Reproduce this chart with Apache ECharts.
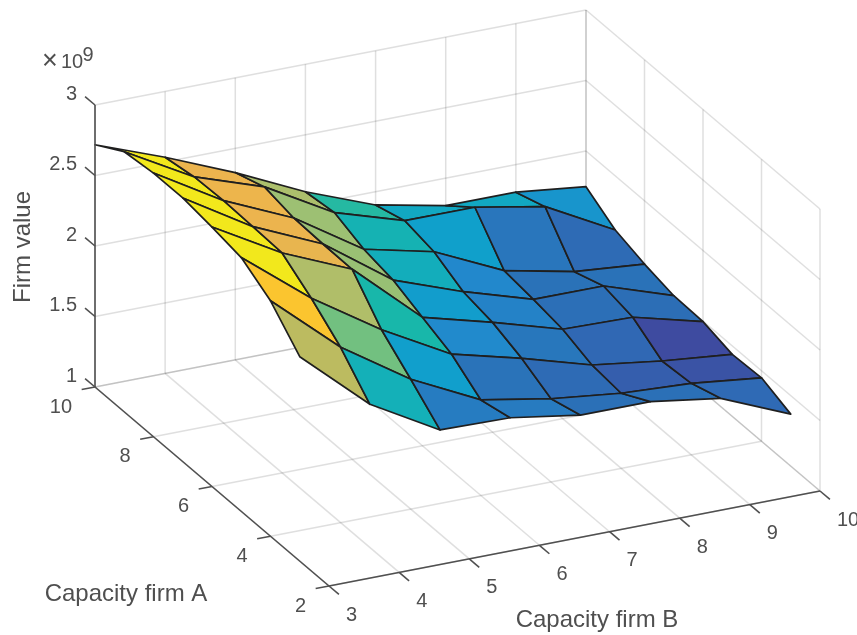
<!DOCTYPE html>
<html>
<head>
<meta charset="utf-8">
<style>html,body{margin:0;padding:0;background:#fff}#c{width:857px;height:635px}</style>
<script src="https://cdn.jsdelivr.net/npm/echarts@6/dist/echarts.min.js"></script>
</head>
<body>
<div id="c"></div>
<script>
// ---- data (firm value in units of 1e9) ----
var capacityA = [10, 9, 8, 7, 6, 5, 4, 3];
var capacityB = [3, 4, 5, 6, 7, 8, 9, 10];
var valueA10 = [2.718, 2.533, 2.328, 2.096, 1.906, 1.805, 1.804, 1.747];
var valueA9  = [2.845, 2.570, 2.403, 2.124, 1.971, 1.970, 1.878, 1.616];
var valueA8  = [2.870, 2.578, 2.359, 2.041, 1.927, 1.697, 1.593, 1.551];
var valueA7  = [2.870, 2.570, 2.351, 1.999, 1.820, 1.670, 1.668, 1.503];
var valueA6  = [2.840, 2.560, 2.348, 1.911, 1.779, 1.634, 1.623, 1.496];
var valueA5  = [2.800, 2.415, 2.096, 1.826, 1.700, 1.557, 1.489, 1.440];
var valueA4  = [2.670, 2.244, 1.921, 1.678, 1.590, 1.533, 1.507, 1.450];
var valueA3  = [2.450, 2.016, 1.738, 1.728, 1.651, 1.650, 1.577, 1.369];
var firmValue = [valueA10, valueA9, valueA8, valueA7, valueA6, valueA5, valueA4, valueA3];

var aTicks = [2, 4, 6, 8, 10];
var bTicks = [3, 4, 5, 6, 7, 8, 9, 10];
var zTicks = [1, 1.5, 2, 2.5, 3];
var zTickLabels = ['1', '1.5', '2', '2.5', '3'];
var aName = 'Capacity firm A', bName = 'Capacity firm B', zName = 'Firm value';

// ---- box of the 3D axes (orthographic view) ----
var A_MIN = 2, A_MAX = 10, B_MIN = 3, B_MAX = 10, Z_MIN = 1, Z_MAX = 3;
var ORIGIN = [95, 387], A_VEC = [234, 199], B_VEC = [491, -95], Z_VEC = [0, -282];
function project(a, b, z) {
  var u = (A_MAX - a) / (A_MAX - A_MIN), v = (b - B_MIN) / (B_MAX - B_MIN), w = (z - Z_MIN) / (Z_MAX - Z_MIN);
  return [ORIGIN[0] + u * A_VEC[0] + v * B_VEC[0] + w * Z_VEC[0],
          ORIGIN[1] + u * A_VEC[1] + v * B_VEC[1] + w * Z_VEC[1]];
}

// ---- colour scale ----
var colorStops = [
  [0, '#3d3f9e'], [0.08, '#3e4ba0'], [0.125, '#3068b4'], [0.2, '#2a72b8'], [0.3, '#2288cc'],
  [0.37, '#10a0cc'], [0.43, '#14b0b8'], [0.49, '#18b8a8'], [0.58, '#70c080'], [0.68, '#a8c070'],
  [0.72, '#bcbb60'], [0.80, '#ecb44e'], [0.87, '#fcc62e'], [0.95, '#f2e81c'], [1, '#f2e81c']
];
function hexRgb(h) { return [parseInt(h.substr(1, 2), 16), parseInt(h.substr(3, 2), 16), parseInt(h.substr(5, 2), 16)]; }
function colorOf(t) {
  t = Math.max(0, Math.min(1, t));
  for (var k = 1; k < colorStops.length; k++) {
    if (t <= colorStops[k][0]) {
      var p = colorStops[k - 1], q = colorStops[k], f = (t - p[0]) / (q[0] - p[0] || 1);
      var c0 = hexRgb(p[1]), c1 = hexRgb(q[1]);
      return 'rgb(' + c0.map(function (c, n) { return Math.round(c + (c1[n] - c) * f); }).join(',') + ')';
    }
  }
  return colorStops[colorStops.length - 1][1];
}
var all = [].concat.apply([], firmValue);
var cMin = Math.min.apply(null, all), cMax = Math.max.apply(null, all);

// ---- surface faces, far to near; colour comes from the low-A, low-B corner ----
var faces = [];
for (var i = 0; i + 1 < capacityA.length; i++) {
  for (var j = 0; j + 1 < capacityB.length; j++) {
    faces.push([capacityA[i], capacityA[i + 1], capacityB[j], capacityB[j + 1],
      firmValue[i][j], firmValue[i][j + 1], firmValue[i + 1][j + 1], firmValue[i + 1][j],
      firmValue[i + 1][j]]);
  }
}

// ---- grid and axis segments: [a1,b1,z1,a2,b2,z2] ----
var gridSegs = [], axisSegs = [];
bTicks.forEach(function (b) {
  gridSegs.push([A_MAX, b, Z_MIN, A_MAX, b, Z_MAX]);
  gridSegs.push([A_MIN, b, Z_MIN, A_MAX, b, Z_MIN]);
});
aTicks.forEach(function (a) {
  gridSegs.push([a, B_MAX, Z_MIN, a, B_MAX, Z_MAX]);
  gridSegs.push([a, B_MIN, Z_MIN, a, B_MAX, Z_MIN]);
});
zTicks.forEach(function (z) {
  gridSegs.push([A_MAX, B_MIN, z, A_MAX, B_MAX, z]);
  gridSegs.push([A_MIN, B_MAX, z, A_MAX, B_MAX, z]);
});
axisSegs.push([A_MAX, B_MIN, Z_MIN, A_MAX, B_MIN, Z_MAX]);
axisSegs.push([A_MAX, B_MIN, Z_MIN, A_MIN, B_MIN, Z_MIN]);
axisSegs.push([A_MIN, B_MIN, Z_MIN, A_MIN, B_MAX, Z_MIN]);
var TICK_A = 0.34, TICK_B = 0.19;
zTicks.forEach(function (z) { axisSegs.push([A_MAX, B_MIN, z, A_MAX + TICK_A, B_MIN, z]); });
aTicks.forEach(function (a) { axisSegs.push([a, B_MIN, Z_MIN, a, B_MIN - TICK_B, Z_MIN]); });
bTicks.forEach(function (b) { axisSegs.push([A_MIN, b, Z_MIN, A_MIN - TICK_A, b, Z_MIN]); });

// ---- tick labels: anchored on the axes, with a pixel offset ----
var tickTexts = [];
zTicks.forEach(function (z, n) { tickTexts.push({ text: zTickLabels[n], at: [A_MAX, B_MIN, z], dx: -18, dy: -11, align: 'right' }); });
aTicks.forEach(function (a) { tickTexts.push({ text: String(a), at: [a, B_MIN, Z_MIN], dx: -23, dy: 20, align: 'right' }); });
bTicks.forEach(function (b) { tickTexts.push({ text: String(b), at: [A_MIN, b, Z_MIN], dx: 17, dy: 29, align: 'left' }); });

var TEXT = '#4f4f4f', FONT = '"Liberation Sans", Arial, sans-serif';

function segSeries(name, data, color, width, z) {
  return {
    type: 'custom', name: name, coordinateSystem: 'none', silent: true, z: z, clip: false,
    data: data,
    renderItem: function (params, api) {
      var p = project(api.value(0), api.value(1), api.value(2));
      var q = project(api.value(3), api.value(4), api.value(5));
      return { type: 'line', shape: { x1: p[0], y1: p[1], x2: q[0], y2: q[1] }, style: { stroke: color, lineWidth: width, fill: null } };
    }
  };
}

var chart = echarts.init(document.getElementById('c'), null, { renderer: 'canvas' });
chart.setOption({
  animation: false,
  backgroundColor: '#fff',
  series: [
    segSeries('grid', gridSegs, 'rgba(38,38,38,0.15)', 1.5, 1),
    {
      type: 'custom', name: 'Firm value surface', coordinateSystem: 'none', silent: true, z: 2, clip: false,
      data: faces,
      renderItem: function (params, api) {
        var a0 = api.value(0), a1 = api.value(1), b0 = api.value(2), b1 = api.value(3);
        var pts = [project(a0, b0, api.value(4)), project(a0, b1, api.value(5)),
                   project(a1, b1, api.value(6)), project(a1, b0, api.value(7))];
        return {
          type: 'polygon', shape: { points: pts },
          style: { fill: colorOf((api.value(8) - cMin) / (cMax - cMin)), stroke: '#1f1f1f', lineWidth: 1.7, lineJoin: 'round' }
        };
      }
    },
    segSeries('axes', axisSegs, '#505050', 1.6, 3),
    {
      type: 'custom', name: 'tick labels', coordinateSystem: 'none', silent: true, z: 4, clip: false,
      data: tickTexts.map(function (t) { return t.at; }),
      renderItem: function (params, api) {
        var t = tickTexts[params.dataIndex], p = project(api.value(0), api.value(1), api.value(2));
        return { type: 'text', style: { x: p[0] + t.dx, y: p[1] + t.dy, text: t.text, align: t.align, verticalAlign: 'middle', fill: TEXT, font: '20px ' + FONT } };
      }
    }
  ],
  graphic: [
    { type: 'text', style: { x: 126, y: 594, text: aName, align: 'center', verticalAlign: 'middle', fill: TEXT, font: '24px ' + FONT } },
    { type: 'text', style: { x: 597, y: 620, text: bName, align: 'center', verticalAlign: 'middle', fill: TEXT, font: '24px ' + FONT } },
    { type: 'text', x: 23, y: 247, rotation: Math.PI / 2, style: { x: 0, y: 0, text: zName, align: 'center', verticalAlign: 'middle', fill: TEXT, font: '24px ' + FONT } },
    { type: 'text', style: { x: 50, y: 62, text: '\u00d7', align: 'center', verticalAlign: 'middle', fill: TEXT, font: '27px ' + FONT } },
    { type: 'text', style: { x: 72, y: 62, text: '10', align: 'center', verticalAlign: 'middle', fill: TEXT, font: '20px ' + FONT } },
    { type: 'text', style: { x: 88, y: 55, text: '9', align: 'center', verticalAlign: 'middle', fill: TEXT, font: '20px ' + FONT } }
  ]
});
</script>
</body>
</html>
